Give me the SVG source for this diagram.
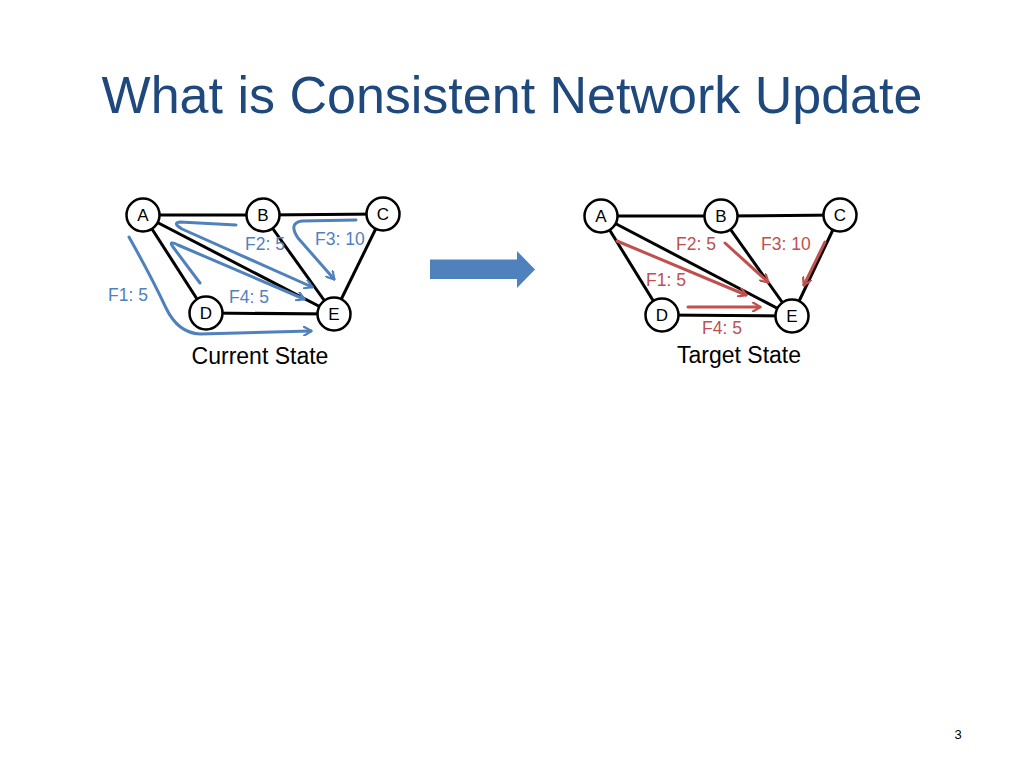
<svg xmlns="http://www.w3.org/2000/svg" width="1024" height="768" viewBox="0 0 1024 768">
<style>
.title{font-family:"Liberation Sans",Arial,sans-serif;font-size:52px;fill:#1F497D}
.edge{stroke:#000;stroke-width:3;fill:none}
.node circle{fill:#fff;stroke:#000;stroke-width:2.5}
.node text{font-family:"Liberation Sans",Arial,sans-serif;font-size:17px;fill:#000;text-anchor:middle}
.blue{stroke:#4F81BD;stroke-width:3;fill:none;stroke-linecap:round;stroke-linejoin:round}
.red{stroke:#C0504D;stroke-width:3;fill:none;stroke-linecap:round}
.lb{font-family:"Liberation Sans",Arial,sans-serif;font-size:17.5px;fill:#4F81BD}
.lr{font-family:"Liberation Sans",Arial,sans-serif;font-size:17.5px;fill:#C0504D}
.cap{font-family:"Liberation Sans",Arial,sans-serif;font-size:23px;fill:#000;text-anchor:middle}
</style>
<defs>
<marker id="ab" markerWidth="10" markerHeight="10" refX="8" refY="5" orient="auto" markerUnits="userSpaceOnUse" viewBox="0 0 10 10">
<path d="M1,0.5 L8.5,5 L1,9.5" fill="none" stroke="#4F81BD" stroke-width="2.2" stroke-linecap="round" stroke-linejoin="round"/>
</marker>
<marker id="ar" markerWidth="10" markerHeight="10" refX="8" refY="5" orient="auto" markerUnits="userSpaceOnUse" viewBox="0 0 10 10">
<path d="M1,0.5 L8.5,5 L1,9.5" fill="none" stroke="#C0504D" stroke-width="2.2" stroke-linecap="round" stroke-linejoin="round"/>
</marker>
</defs>
<rect width="1024" height="768" fill="#fff"/>
<text class="title" x="512" y="113" text-anchor="middle">What is Consistent Network Update</text>

<!-- Left graph connectors -->
<g id="connectors-current">
<line class="edge" x1="143" y1="215" x2="263" y2="215"/>
<line class="edge" x1="263" y1="215" x2="383" y2="214"/>
<line class="edge" x1="143" y1="215" x2="206" y2="313"/>
<line class="edge" x1="143" y1="215" x2="334" y2="314"/>
<line class="edge" x1="263" y1="215" x2="334" y2="314"/>
<line class="edge" x1="383" y1="214" x2="334" y2="314"/>
<line class="edge" x1="206" y1="313" x2="334" y2="314"/>
<path class="blue" marker-end="url(#ab)" d="M129,237 Q152,278 166,308 Q178,333 200,334 L311,331"/>
<path class="blue" marker-end="url(#ab)" d="M236,225 L180,222 Q172,223 182,229 L312,287"/>
<path class="blue" marker-end="url(#ab)" d="M356,220 L302,221 Q288,223 298,238 L334,279"/>
<path class="blue" marker-end="url(#ab)" d="M200,283 L173,247 Q168,240 178,245 L304,299"/>
</g>
<g id="node-A1" class="node"><circle cx="143" cy="215" r="16.5"/><text x="143" y="221">A</text></g>
<g id="node-B1" class="node"><circle cx="263" cy="215" r="16.5"/><text x="263" y="221">B</text></g>
<g id="node-C1" class="node"><circle cx="383" cy="214" r="16.5"/><text x="383" y="220">C</text></g>
<g id="node-D1" class="node"><circle cx="206" cy="313" r="16.5"/><text x="206" y="319">D</text></g>
<g id="node-E1" class="node"><circle cx="334" cy="314" r="16.5"/><text x="334" y="320">E</text></g>
<g id="labels-current">
<text class="lb" x="245" y="250">F2: 5</text>
<text class="lb" x="315" y="245">F3: 10</text>
<text class="lb" x="108" y="301">F1: 5</text>
<text class="lb" x="229" y="303">F4: 5</text>
<text class="cap" x="260" y="364">Current State</text>
</g>

<!-- Big arrow -->
<g id="big-arrow">
<path d="M430,259.5 L517,259.5 L517,251 L535,269.5 L517,288 L517,279 L430,279 Z" fill="#4F81BD"/>
</g>

<!-- Right graph -->
<g id="connectors-target">
<line class="edge" x1="601" y1="216" x2="721" y2="216"/>
<line class="edge" x1="721" y1="216" x2="840" y2="215"/>
<line class="edge" x1="601" y1="216" x2="662" y2="315"/>
<line class="edge" x1="601" y1="216" x2="792" y2="316"/>
<line class="edge" x1="721" y1="216" x2="792" y2="316"/>
<line class="edge" x1="840" y1="215" x2="792" y2="316"/>
<line class="edge" x1="662" y1="315" x2="792" y2="316"/>
<line class="red" marker-end="url(#ar)" x1="617" y1="241" x2="746" y2="295"/>
<line class="red" marker-end="url(#ar)" x1="725" y1="243" x2="768" y2="282"/>
<line class="red" marker-end="url(#ar)" x1="825" y1="242" x2="804" y2="285"/>
<line class="red" marker-end="url(#ar)" x1="688" y1="307" x2="760" y2="307"/>
</g>
<g id="node-A2" class="node"><circle cx="601" cy="216" r="16.5"/><text x="601" y="222">A</text></g>
<g id="node-B2" class="node"><circle cx="721" cy="216" r="16.5"/><text x="721" y="222">B</text></g>
<g id="node-C2" class="node"><circle cx="840" cy="215" r="16.5"/><text x="840" y="221">C</text></g>
<g id="node-D2" class="node"><circle cx="662" cy="315" r="16.5"/><text x="662" y="321">D</text></g>
<g id="node-E2" class="node"><circle cx="792" cy="316" r="16.5"/><text x="792" y="322">E</text></g>
<g id="labels-target">
<text class="lr" x="676" y="250">F2: 5</text>
<text class="lr" x="761" y="250">F3: 10</text>
<text class="lr" x="646" y="286">F1: 5</text>
<text class="lr" x="702" y="334">F4: 5</text>
<text class="cap" x="739" y="363">Target State</text>
</g>

<text x="958" y="739" font-family="Liberation Sans, Arial, sans-serif" font-size="13" text-anchor="middle" fill="#000">3</text>
</svg>
